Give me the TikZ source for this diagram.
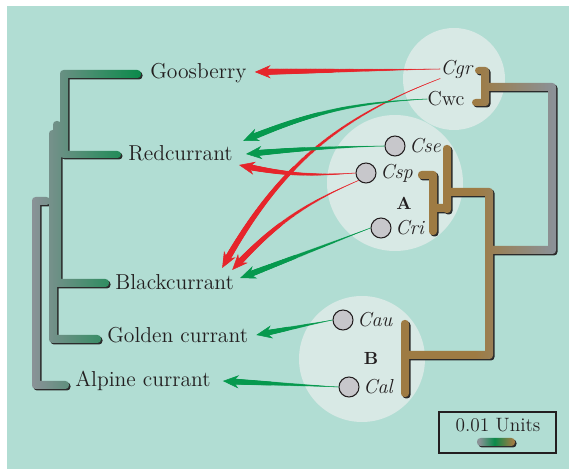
\documentclass[tikz,border=0pt]{standalone}
\usetikzlibrary{arrows.meta,positioning,calc,decorations.markings}

\definecolor{bgteal}{HTML}{B1DDD3}
\definecolor{halo}{HTML}{D8E9E5}
\definecolor{spotgray}{HTML}{C7C7CB}
\definecolor{inkc}{HTML}{231F20}
\definecolor{treegray}{HTML}{8A9297}
\definecolor{treegreen}{HTML}{0A8A4A}
\definecolor{brtan}{HTML}{9E7B43}
\definecolor{rgray}{HTML}{8B9196}
\definecolor{redarr}{HTML}{E6252B}
\definecolor{greenarr}{HTML}{06994E}
\definecolor{shadowc}{HTML}{2B2B2B}

\pgfdeclarehorizontalshading{rtree}{100bp}{color(0bp)=(brtan); color(49bp)=(brtan); color(74bp)=(rgray); color(100bp)=(rgray)}
\pgfdeclarehorizontalshading{legbar}{100bp}{color(0bp)=(treegray); color(28bp)=(treegray); color(48bp)=(treegreen); color(72bp)=(brtan); color(100bp)=(brtan)}

% branch pieces: x1/y1/x2/y2 in pixels
\def\lefttree{60/70/141/78, 60/70/68/158, 60/151/121/158, 53/121/61/287, 53/279/109/287, 49/130/57/343, 49/335/101/343, 32/197/40/389, 32/197/50/205, 32/381/69/389}
\def\righttree{475/67/489/74, 481/67/489/106, 472/99/489/106, 481/83/556/91, 548/83/556/254, 485/246/556/254, 485/188/493/359, 401/351/493/359, 401/320/409/397, 443/145/451/213, 443/188/493/196, 418/171/437/179, 429/171/437/235, 429/204/451/212}

\tikzset{
  taper/.style={line width=0.3pt, -{Stealth[length=9pt,width=7.5pt,inset=3pt]},
    postaction={decorate, decoration={markings,
      mark=between positions 0 and -5pt step 0.6pt with {%
        \pgfmathsetmacro\tw{0.12+1.75*\pgfkeysvalueof{/pgf/decoration/mark info/distance from start}/\pgfdecoratedpathlength}%
        \fill (0,0) circle (\tw pt);}}}}
}

\begin{document}
\begin{tikzpicture}[x=0.02cm, y=-0.02cm,
  lab/.style={font=\fontsize{12.3}{14}\selectfont, inner sep=0pt, anchor=west, text=inkc},
  sp/.style={font=\fontsize{11.5}{13}\selectfont, inner sep=0pt, text=inkc},
  spot/.style={circle, fill=spotgray, draw=inkc, line width=0.6pt, minimum size=0.4cm, inner sep=0pt},
  grp/.style={font=\bfseries\fontsize{10}{12}\selectfont, inner sep=0pt, text=inkc}]
  \useasboundingbox (0,0) rectangle (569,469);
  \fill[bgteal] (7,6) rectangle (569,469);

  % groups
  \fill[halo] (454,79) circle (51);
  \fill[halo] (395,183) circle (68);
  \fill[halo] (362,359) circle (63);

  % trees with drop shadow
  \begin{scope}[shift={(1.5,1.5)}]
    \fill[shadowc, rounded corners=2pt] \foreach \a/\b/\c/\d in \lefttree {(\a,\b) rectangle (\c,\d)};
    \fill[shadowc, rounded corners=2pt] \foreach \a/\b/\c/\d in \righttree {(\a,\b) rectangle (\c,\d)};
  \end{scope}
  \shade[left color=treegray, right color=treegreen, rounded corners=2pt] \foreach \a/\b/\c/\d in \lefttree {(\a,\b) rectangle (\c,\d)};
  \shade[shading=rtree, rounded corners=2pt] \foreach \a/\b/\c/\d in \righttree {(\a,\b) rectangle (\c,\d)};

  % currants
  \node[lab] (goos) at (150,73) {Goosberry};
  \node[lab] (red) at (128,153) {Redcurrant};
  \node[lab] (black) at (115,282) {Blackcurrant};
  \node[lab] (golden) at (107,335) {Golden currant};
  \node[lab] (alpine) at (75,381) {Alpine currant};

  % species
  \node[sp] (cgr) at (457,69) {\textit{Cgr}};
  \node[sp] (cwc) at (446,99) {Cwc};
  \node[spot] (cse) at (395,146) {};
  \node[sp, right=2pt of cse] (csetxt) {\textit{Cse}};
  \node[spot] (csp) at (366,173) {};
  \node[sp, right=2pt of csp] (csptxt) {\textit{Csp}};
  \node[grp] (grpa) at (404,203) {A};
  \node[spot] (cri) at (381,228) {};
  \node[sp, right=2pt of cri] (critxt) {\textit{Cri}};
  \node[spot] (cau) at (343,320) {};
  \node[sp, right=2pt of cau] (cautxt) {\textit{Cau}};
  \node[grp] (grpb) at (371,358) {B};
  \node[spot] (cal) at (349,387) {};
  \node[sp, right=2pt of cal] (caltxt) {\textit{Cal}};

  % arrows
  \draw[redarr, taper] (cgr.west) -- ($(goos.east)+(8,-1)$);
  \draw[redarr, taper] (cgr.south west) to[bend right=20] ($(black.east)+(-12,-14)$);
  \draw[greenarr, taper] (cwc.west) to[bend right=10] ($(red.east)+(10,-12)$);
  \draw[greenarr, taper] (cse.west) to[bend right=2] ($(red.east)+(13,1)$);
  \draw[redarr, taper] (csp.west) to[bend left=8] ($(red.east)+(6,12)$);
  \draw[redarr, taper] (csp.south west) to[bend right=12] ($(black.east)+(-2,-12)$);
  \draw[greenarr, taper] (cri.west) -- ($(black.east)+(6,-4)$);
  \draw[greenarr, taper] (cau.west) -- ($(golden.east)+(8,0)$);
  \draw[greenarr, taper] (cal.west) -- ($(alpine.east)+(12,0)$);

  % scale
  \node[draw=inkc, line width=0.6pt, minimum width=2.34cm, minimum height=0.82cm] (legend) at (497.5,432.5) {};
  \node[font=\fontsize{11}{13}\selectfont, text=inkc] (units) at (498,425) {0.01 Units};
  \fill[shadowc, rounded corners=2pt] (478.5,439.5) rectangle (516.5,447.5);
  \shade[shading=legbar, rounded corners=2pt] (477,438) rectangle (515,446);
\end{tikzpicture}
\end{document}
